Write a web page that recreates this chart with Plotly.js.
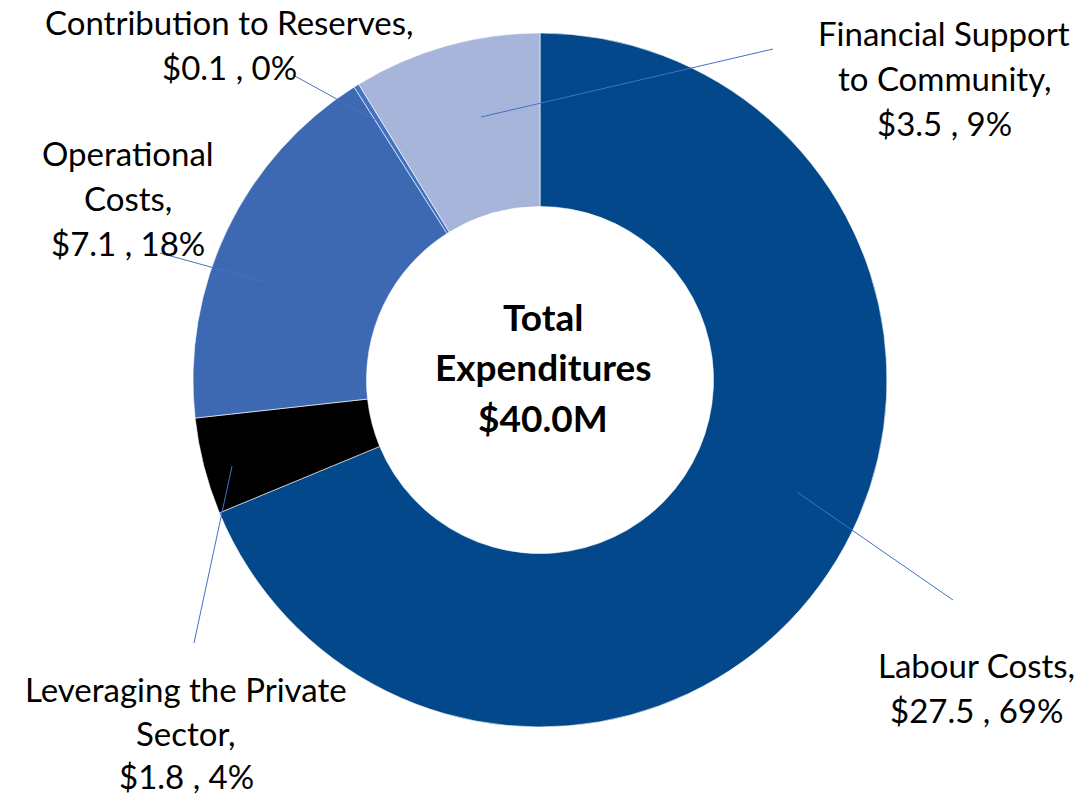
<!DOCTYPE html>
<html>
<head>
<meta charset="utf-8">
<script src="https://cdn.plot.ly/plotly-3.0.1.min.js"></script>
<style>html,body{margin:0;padding:0;background:#fff;}#chart{width:1089px;height:800px;}</style>
</head>
<body>
<div id="chart"></div>
<script>
// ---- data ----
const categories = ["Labour Costs", "Leveraging the Private Sector", "Operational Costs", "Contribution to Reserves", "Financial Support to Community"];
const values = [27.5, 1.8, 7.1, 0.1, 3.5];
const percents = [69, 4, 18, 0, 9];
const colors = ["#02488A", "#000000", "#3D68B2", "#4472C4", "#A8B5DA"];
const labelLines = [
  ["Labour Costs,"],
  ["Leveraging the Private", "Sector,"],
  ["Operational", "Costs,"],
  ["Contribution to Reserves,"],
  ["Financial Support", "to Community,"]
];
const centerLines = ["Total", "Expenditures", "$40.0M"];

// ---- layout helpers (pixel positions) ----
const W = 1089, H = 800;
const px = x => x / W, py = y => 1 - y / H;
const cx = 540, cy = 380, R = 347;
const labelPos = [
  {x: 976, y: 665, ls: 45},
  {x: 186, y: 689, ls: 43.5},
  {x: 128, y: 153, ls: 45},
  {x: 229, y: 22, ls: 45},
  {x: 944, y: 33, ls: 45}
];
const leaders = [
  [797, 492, 953, 600],
  [232, 466, 194, 643],
  [265, 282, 160, 253],
  [375, 120, 293, 75],
  [481, 117, 773, 49]
];
const FONT = "Lato, 'Open Sans', sans-serif";

const annotations = [];
categories.forEach((c, i) => {
  const lines = labelLines[i].concat(["$" + values[i].toFixed(1) + " , " + percents[i] + "%"]);
  lines.forEach((t, k) => {
    annotations.push({
      xref: "paper", yref: "paper", x: px(labelPos[i].x), y: py(labelPos[i].y + k * labelPos[i].ls),
      text: t, showarrow: false, xanchor: "center", yanchor: "middle",
      font: {family: FONT, size: 33, color: "#000"}
    });
  });
});
centerLines.forEach((t, k) => {
  annotations.push({
    xref: "paper", yref: "paper", x: px(cx + 3), y: py(316 + k * 50.5),
    text: "<b>" + t + "</b>", showarrow: false, xanchor: "center", yanchor: "middle",
    font: {family: FONT, size: 37, color: "#000"}
  });
});

const shapes = leaders.map(l => ({
  type: "line", xref: "paper", yref: "paper",
  x0: px(l[0]), y0: py(l[1]), x1: px(l[2]), y1: py(l[3]),
  line: {color: "#4472C4", width: 1}
}));

const trace = {
  type: "pie",
  labels: categories,
  values: values,
  hole: 0.5,
  sort: false,
  direction: "clockwise",
  rotation: 0,
  textinfo: "none",
  hoverinfo: "label+value+percent",
  marker: {colors: colors, line: {color: "#ffffff", width: 0.6}},
  domain: {x: [px(cx - R), px(cx + R)], y: [py(cy + R), py(cy - R)]}
};

Plotly.newPlot("chart", [trace], {
  width: W, height: H,
  margin: {l: 0, r: 0, t: 0, b: 0},
  showlegend: false,
  paper_bgcolor: "#fff",
  annotations: annotations,
  shapes: shapes
}, {displayModeBar: false, staticPlot: true});
</script>
</body>
</html>
